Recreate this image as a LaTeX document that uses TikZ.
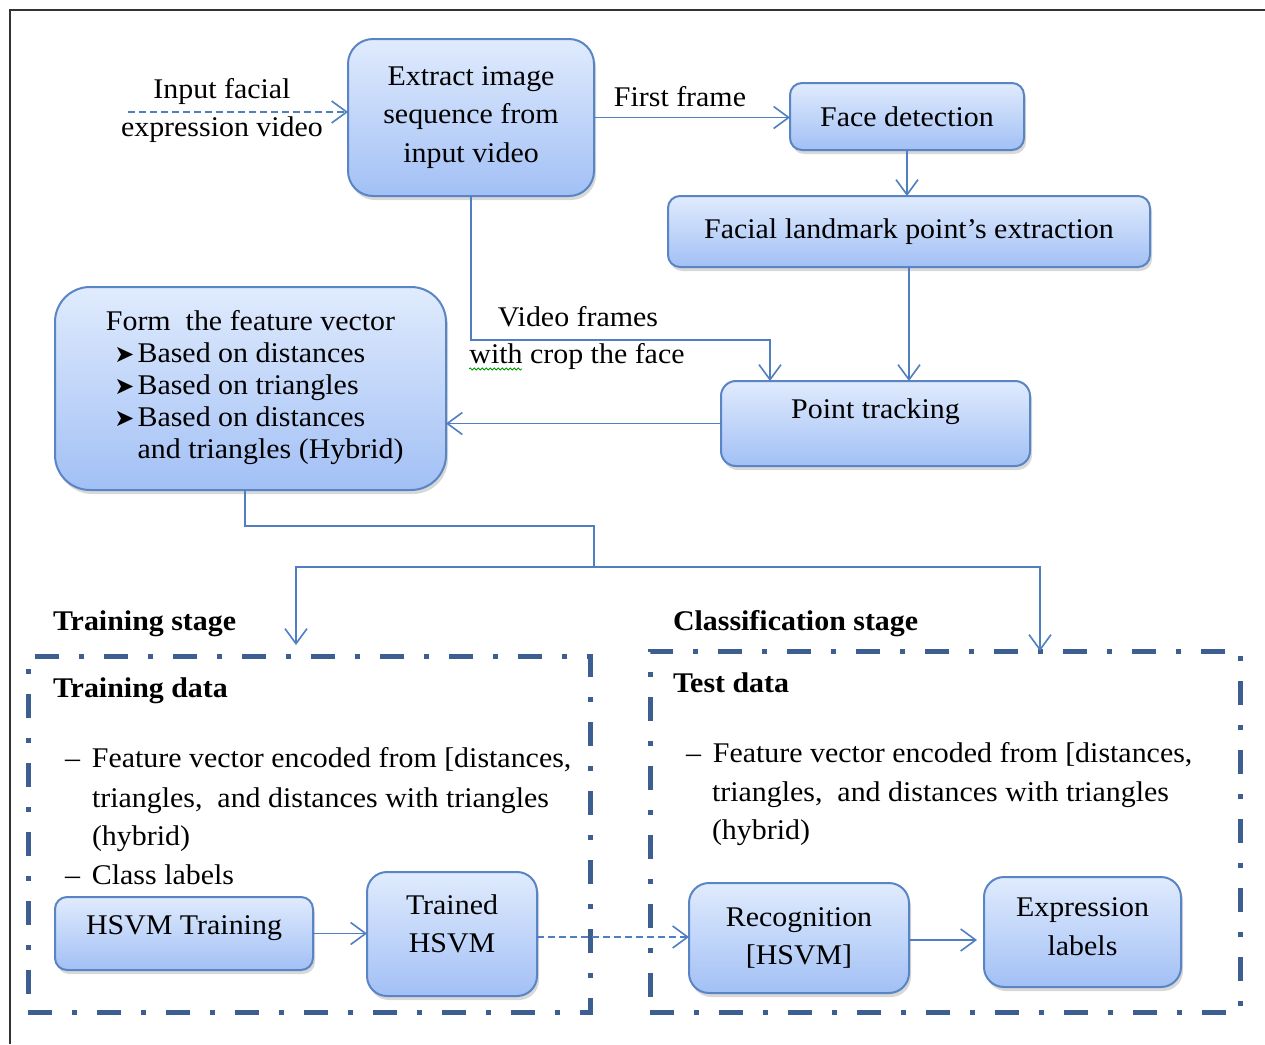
\documentclass[tikz,border=0pt]{standalone}
\usepackage{fontspec}
\setmainfont{Liberation Serif}[FakeStretch=1.05]
\newfontfamily\symf{DejaVu Sans}
\usetikzlibrary{arrows.meta,shadows,decorations.pathmorphing}
\definecolor{boxtop}{HTML}{E0EBFD}
\definecolor{boxbot}{HTML}{A2C0F5}
\definecolor{boxline}{HTML}{5A85C4}
\definecolor{conn}{HTML}{4F7FC0}
\definecolor{dashc}{HTML}{3D5E90}
\definecolor{framec}{HTML}{333333}
\newcommand\dn[1]{\rule[-#1]{0pt}{#1}}
\newcommand\bul{{\symf\fontsize{24}{24}\selectfont ➤}}
\begin{document}
\begin{tikzpicture}[x=1pt,y=-1pt,
 every node/.style={font=\fontsize{28.5}{38.5}\selectfont, inner sep=0pt, outer sep=0pt},
 procbox/.style={draw=boxline, line width=2pt, top color=boxtop, bottom color=boxbot, align=center,
   drop shadow={shadow xshift=2pt, shadow yshift=-4pt, opacity=0.3}},
 arr/.style={draw=conn, line width=1.6pt, -{Straight Barb[length=15pt,width=22pt,line width=1.6pt]}},
 plain/.style={draw=conn, line width=1.6pt},
 dasharr/.style={arr, dash pattern=on 7pt off 4pt},
 stagebox/.style={draw=dashc, line width=5pt, dash pattern=on 24pt off 20pt on 5pt off 20pt},
 lbl/.style={anchor=mid west},
 boldlbl/.style={anchor=mid west, font=\fontsize{28.5}{38.5}\selectfont\bfseries}
]
\useasboundingbox (0,0) rectangle (1265,1044);
\fill[white] (0,0) rectangle (1265,1044);
\draw[framec, line width=2.5pt] (10,1044) -- (10,10) -- (1265,10);

% process boxes
\node[procbox, rounded corners=25pt, minimum width=246pt, minimum height=157pt] (extract) at (471,117.5)
  {Extract image\\sequence from\\input video};
\node[procbox, rounded corners=12pt, minimum width=234pt, minimum height=67pt] (facedet) at (907,116.5)
  {Face detection};
\node[procbox, rounded corners=12pt, minimum width=482pt, minimum height=71pt] (landmark) at (909,231.5)
  {Facial landmark point’s extraction};
\node[procbox, rounded corners=15pt, minimum width=309pt, minimum height=85pt] (pointtrack) at (875.5,423.5)
  {Point tracking\dn{29pt}};
\node[procbox, rounded corners=35pt, minimum width=391pt, minimum height=203pt] (form) at (250.5,388.5)
  {\fontsize{28.5}{32}\selectfont\begin{tabular}{@{}l@{}}
   \multicolumn{1}{c}{Form\ \ the feature vector}\\
   \hspace{17pt}\bul\hspace{3pt}Based on distances\\
   \hspace{17pt}\bul\hspace{3pt}Based on triangles\\
   \hspace{17pt}\bul\hspace{3pt}Based on distances\\
   \hspace{17pt}\phantom{\bul}\hspace{3pt}and triangles (Hybrid)
  \end{tabular}};
\node[procbox, rounded corners=12pt, minimum width=258pt, minimum height=73pt] (hsvmtrain) at (184,933.5)
  {HSVM Training\dn{17.5pt}};
\node[procbox, rounded corners=20pt, minimum width=170pt, minimum height=124pt] (trained) at (452,934)
  {Trained\\HSVM\dn{21pt}};
\node[procbox, rounded corners=20pt, minimum width=220pt, minimum height=110pt] (recog) at (799,938)
  {Recognition\\{[HSVM]}};
\node[procbox, rounded corners=20pt, minimum width=197pt, minimum height=110pt] (expr) at (1082.5,932)
  {Expression\\labels\dn{11pt}};

% stage boxes
\node[stagebox, minimum width=562pt, minimum height=356pt] (trainbox) at (309,834) {};
\node[stagebox, minimum width=590pt, minimum height=361pt] (testbox) at (945,831.5) {};

% labels
\node[align=center] (inlbl) at (222,110.5) {Input facial\\expression video};
\node[anchor=mid] (fflbl) at (680,104) {First frame};
\node[anchor=mid] (vflbl) at (578,324) {Video frames};
\node[anchor=mid] (wclbl) at (577,361) {with crop the face};
\node[boldlbl] (trstage) at (53,628) {Training stage};
\node[boldlbl] (clstage) at (673,628) {Classification stage};
\node[boldlbl] (trdata) at (53,695) {Training data};
\node[boldlbl] (tsdata) at (673,690) {Test data};
\node[lbl] (tr1) at (65,765) {–\hspace{12pt}Feature vector encoded from [distances,};
\node[lbl] (tr2) at (92,805) {triangles,\ \ and distances with triangles};
\node[lbl] (tr3) at (92,843) {(hybrid)};
\node[lbl] (tr4) at (65,882) {–\hspace{12pt}Class labels};
\node[lbl] (ts1) at (686,760) {–\hspace{12pt}Feature vector encoded from [distances,};
\node[lbl] (ts2) at (712,799) {triangles,\ \ and distances with triangles};
\node[lbl] (ts3) at (712,837) {(hybrid)};

% spell-check squiggle
\draw[green!60!black, line width=0.8pt, decorate, decoration={snake, amplitude=1pt, segment length=4pt}]
  (469,369) -- (522,369);

% connectors
\coordinate (inStart) at (128,112);
\draw[dasharr] (inStart) -- (inStart -| extract.west);
\draw[arr] (extract.east) -- (extract.east -| facedet.west);
\draw[arr] (facedet.south) -- (facedet.south |- landmark.north);
\draw[arr] (landmark.south) -- (landmark.south |- pointtrack.north);
\coordinate (vf) at (770,340);
\draw[arr] (extract.south) |- (vf) -- (vf |- pointtrack.north);
\draw[arr] (pointtrack.west) -- (pointtrack.west -| form.east);
\coordinate (j1) at (594,526);
\coordinate (j2) at (594,567);
\coordinate (tA) at (296,645);
\coordinate (tB) at (1040,651);
\draw[plain] ([xshift=-5.5pt]form.south) |- (j1) -- (j2);
\draw[arr] (j2) -| (tA);
\draw[arr] (j2) -| (tB);
\draw[arr] (hsvmtrain.east) -- (hsvmtrain.east -| trained.west);
\draw[dasharr] ([yshift=-3pt]trained.east) -- ([yshift=-3pt]trained.east -| recog.west);
\draw[arr, shorten >=7pt] ([yshift=-2pt]recog.east) -- ([yshift=-2pt]recog.east -| expr.west);
\end{tikzpicture}
\end{document}
